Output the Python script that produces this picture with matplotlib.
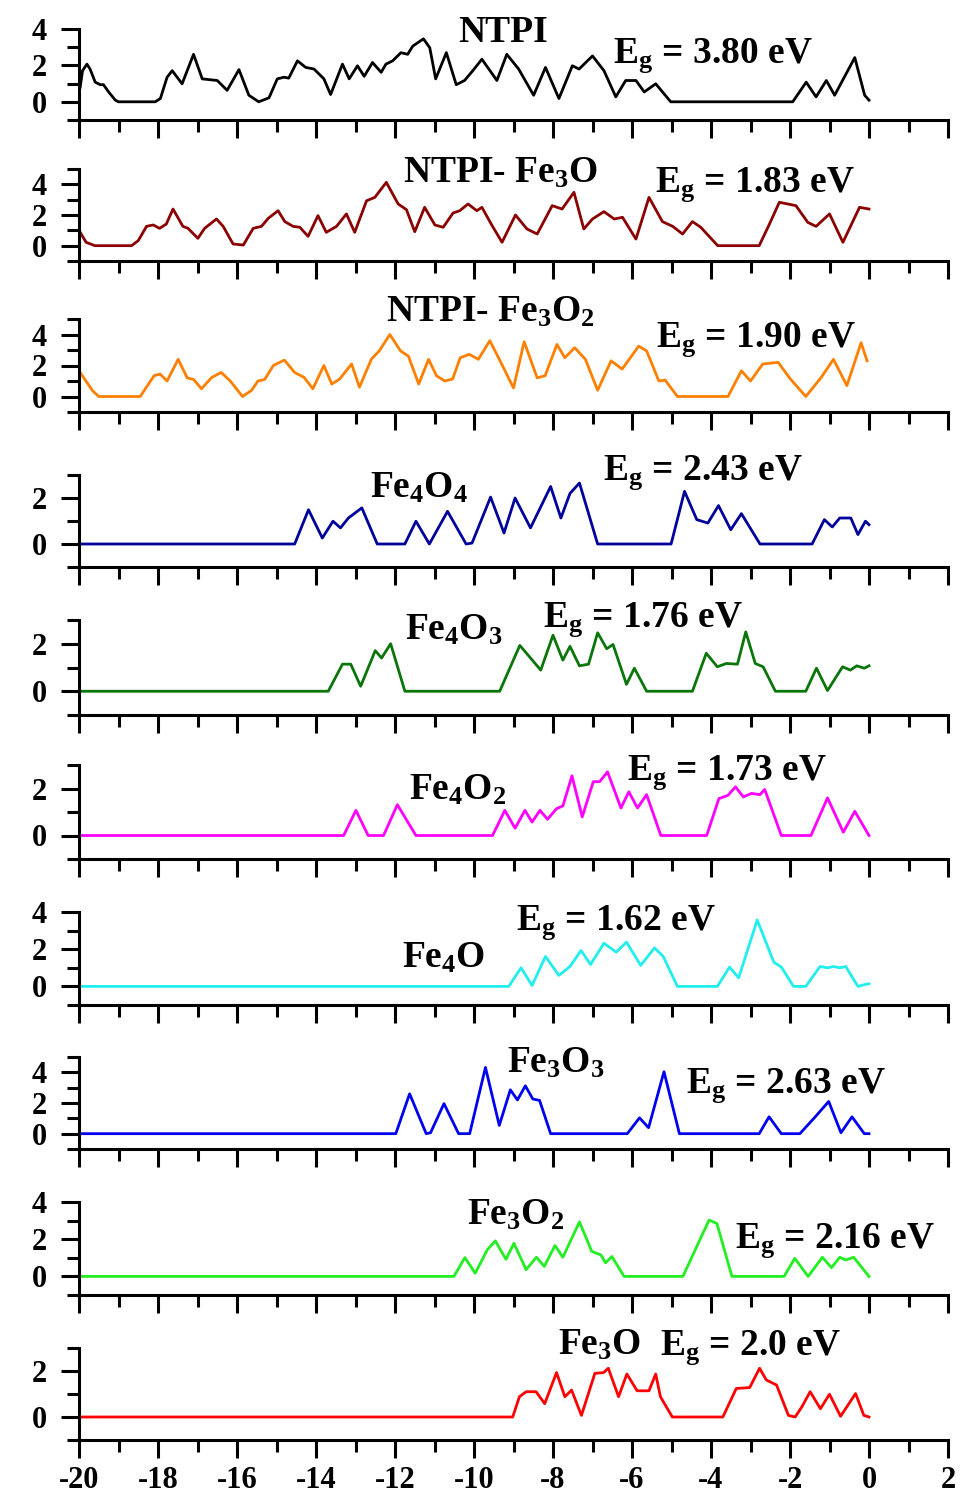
import numpy as np
import matplotlib
matplotlib.use("Agg")
import matplotlib.pyplot as plt
from matplotlib.ticker import MultipleLocator, FixedLocator

plt.rcParams.update({
    "font.family": "Liberation Serif",
    "font.weight": "bold",
    "axes.unicode_minus": False,
    "mathtext.fontset": "custom",
    "mathtext.rm": "Liberation Serif:bold",
    "mathtext.it": "Liberation Serif:bold",
    "mathtext.bf": "Liberation Serif:bold",
})

# ── DOS curves, energy (eV) vs states ────────────────────────────

ntpi_x = [-19.97, -19.91, -19.8, -19.72, -19.59, -19.46, -19.38, -19.25, -19.08, -19.0,
          -18.07, -17.94, -17.77, -17.64, -17.39, -17.1, -16.88, -16.5, -16.25, -15.95,
          -15.7, -15.45, -15.19, -14.98, -14.81, -14.69, -14.47, -14.26, -14.05, -13.8,
          -13.63, -13.33, -13.16, -12.95, -12.78, -12.57, -12.35, -12.23, -12.06, -11.85,
          -11.68, -11.55, -11.28, -11.12, -10.97, -10.7, -10.45, -10.24, -10.03, -9.8,
          -9.42, -9.17, -8.87, -8.49, -8.19, -7.85, -7.51, -7.34, -7.0, -6.71,
          -6.41, -6.16, -5.9, -5.69, -5.4, -5.02, -1.93, -1.59, -1.34, -1.08,
          -0.87, -0.36, -0.11, 0.0]
ntpi_y = [0.81, 1.71, 2.07, 1.8, 1.08, 0.94, 0.94, 0.54, 0.09, 0.0,
          0.0, 0.18, 1.35, 1.71, 0.99, 2.61, 1.26, 1.17, 0.63, 1.77,
          0.36, 0.0, 0.22, 1.26, 1.35, 1.3, 2.25, 1.89, 1.8, 1.26,
          0.4, 2.07, 1.26, 1.98, 1.4, 2.16, 1.62, 2.07, 2.25, 2.7,
          2.61, 3.06, 3.46, 2.97, 1.26, 2.7, 0.94, 1.17, 1.71, 2.34,
          1.17, 2.61, 1.8, 0.36, 1.89, 0.18, 1.98, 1.8, 2.52, 1.71,
          0.27, 1.17, 1.17, 0.54, 0.99, 0.0, 0.0, 1.08, 0.27, 1.17,
          0.36, 2.43, 0.36, 0.09]

ntpi_fe3o_x = [-19.97, -19.82, -19.6, -18.67, -18.5, -18.29, -18.12, -17.96, -17.79, -17.62,
               -17.37, -17.24, -16.99, -16.82, -16.52, -16.35, -16.1, -15.84, -15.59, -15.38,
               -15.21, -14.96, -14.79, -14.58, -14.41, -14.2, -13.95, -13.74, -13.48, -13.23,
               -13.02, -12.72, -12.51, -12.22, -11.92, -11.71, -11.5, -11.25, -10.99, -10.78,
               -10.53, -10.36, -10.15, -9.93, -9.8, -9.54, -9.29, -8.95, -8.66, -8.4,
               -8.02, -7.77, -7.47, -7.22, -7.0, -6.71, -6.45, -6.24, -5.9, -5.57,
               -5.23, -4.97, -4.72, -4.47, -4.26, -3.83, -2.78, -2.52, -2.27, -1.85,
               -1.55, -1.34, -1.0, -0.66, -0.24, 0.0]
ntpi_fe3o_y = [0.87, 0.22, 0.0, 0.0, 0.33, 1.26, 1.35, 1.13, 1.41, 2.39,
               1.26, 1.13, 0.48, 1.13, 1.74, 1.26, 0.11, 0.04, 1.13, 1.26,
               1.78, 2.28, 1.57, 1.26, 1.2, 0.61, 1.96, 0.87, 1.26, 2.07,
               0.87, 2.93, 3.15, 4.13, 2.72, 2.35, 0.91, 2.5, 1.35, 1.2,
               2.13, 2.28, 2.72, 2.28, 2.5, 1.3, 0.22, 2.0, 1.09, 0.76,
               2.61, 2.39, 3.48, 1.09, 1.74, 2.22, 1.74, 1.85, 0.43, 3.15,
               1.57, 1.26, 0.76, 1.57, 1.2, 0.0, 0.0, 1.41, 2.83, 2.61,
               1.52, 1.26, 2.07, 0.22, 2.5, 2.39]

ntpi_fe3o2_x = [-19.97, -19.66, -19.5, -18.45, -18.1, -17.95, -17.77, -17.49, -17.26, -17.1,
                -16.9, -16.64, -16.4, -16.17, -15.86, -15.63, -15.47, -15.3, -15.08, -14.8,
                -14.54, -14.3, -14.08, -13.8, -13.6, -13.4, -13.1, -12.9, -12.6, -12.4,
                -12.13, -11.86, -11.66, -11.4, -11.15, -10.95, -10.74, -10.54, -10.35, -10.12,
                -9.89, -9.6, -9.34, -9.0, -8.73, -8.4, -8.2, -7.9, -7.7, -7.45,
                -7.18, -6.87, -6.53, -6.25, -5.83, -5.63, -5.32, -5.16, -4.85, -3.57,
                -3.23, -3.0, -2.69, -2.3, -1.99, -1.6, -1.21, -0.9, -0.56, -0.2,
                -0.05]
ntpi_fe3o2_y = [1.55, 0.38, 0.0, 0.0, 1.34, 1.45, 1.0, 2.4, 1.2, 1.1,
                0.5, 1.23, 1.55, 1.0, 0.0, 0.4, 1.0, 1.1, 2.0, 2.35,
                1.55, 1.23, 0.5, 2.0, 0.8, 1.13, 2.1, 0.6, 2.4, 2.94,
                4.0, 2.94, 2.6, 0.8, 2.4, 1.34, 1.0, 1.13, 2.5, 2.72,
                2.4, 3.6, 2.3, 0.55, 3.53, 1.2, 1.34, 3.36, 2.5, 3.15,
                2.4, 0.4, 2.3, 1.77, 3.25, 2.94, 1.0, 1.06, 0.0, 0.0,
                1.66, 1.0, 2.1, 2.2, 1.13, 0.0, 1.23, 2.4, 0.7, 3.47,
                2.3]

fe4o4_x = [-20.0, -14.54, -14.19, -13.84, -13.57, -13.38, -13.18, -12.84, -12.45, -11.75,
           -11.47, -11.13, -10.67, -10.2, -10.05, -9.58, -9.24, -8.96, -8.57, -8.06,
           -7.8, -7.57, -7.33, -6.87, -5.01, -4.67, -4.36, -4.08, -3.81, -3.5,
           -3.23, -2.76, -1.44, -1.13, -0.93, -0.74, -0.46, -0.28, -0.09, 0.0]
fe4o4_y = [0.0, 0.0, 1.49, 0.26, 0.99, 0.7, 1.13, 1.57, 0.0, 0.0,
           0.99, 0.0, 1.42, 0.0, 0.04, 2.04, 0.48, 2.0, 0.7, 2.5,
           1.13, 2.2, 2.65, 0.0, 0.0, 2.29, 1.06, 0.91, 1.67, 0.62,
           1.32, 0.0, 0.0, 1.06, 0.74, 1.13, 1.13, 0.41, 0.99, 0.84]

fe4o3_x = [-20.0, -13.69, -13.33, -13.12, -12.87, -12.5, -12.34, -12.11, -11.75, -9.35,
           -8.84, -8.31, -8.0, -7.75, -7.57, -7.33, -7.1, -6.87, -6.64, -6.48,
           -6.14, -5.94, -5.63, -4.47, -4.12, -3.84, -3.61, -3.33, -3.12, -2.88,
           -2.68, -2.37, -1.6, -1.33, -1.05, -0.67, -0.47, -0.31, -0.12, 0.0]
fe4o3_y = [0.0, 0.0, 1.14, 1.14, 0.21, 1.71, 1.4, 2.0, 0.0, 0.0,
           1.93, 0.89, 2.36, 1.31, 1.89, 1.07, 1.14, 2.46, 1.79, 1.97,
           0.29, 0.97, 0.0, 0.0, 1.6, 1.03, 1.17, 1.14, 2.5, 1.17,
           1.03, 0.0, 0.0, 0.97, 0.03, 1.03, 0.89, 1.07, 0.97, 1.07]

fe4o2_x = [-20.0, -13.3, -12.99, -12.68, -12.29, -11.94, -11.47, -9.53, -9.22, -8.96,
           -8.71, -8.53, -8.33, -8.14, -7.91, -7.75, -7.52, -7.26, -6.98, -6.82,
           -6.62, -6.28, -6.08, -5.86, -5.63, -5.27, -4.11, -3.8, -3.57, -3.38,
           -3.18, -2.98, -2.76, -2.64, -2.22, -1.47, -1.05, -0.65, -0.36, 0.0]
fe4o2_y = [0.0, 0.0, 1.07, 0.0, 0.0, 1.31, 0.0, 0.0, 1.07, 0.31,
           1.07, 0.57, 1.07, 0.69, 1.14, 1.26, 2.54, 0.79, 2.29, 2.29,
           2.71, 1.17, 1.86, 1.17, 1.74, 0.0, 0.0, 1.57, 1.71, 2.07,
           1.64, 1.79, 1.74, 1.96, 0.0, 0.0, 1.6, 0.14, 1.03, 0.0]

fe4o_x = [-20.0, -9.12, -8.81, -8.53, -8.19, -7.85, -7.57, -7.29, -7.05, -6.71,
          -6.4, -6.14, -5.78, -5.43, -5.21, -4.85, -3.84, -3.53, -3.3, -2.83,
          -2.41, -2.22, -1.91, -1.6, -1.24, -1.05, -0.9, -0.74, -0.59, -0.28,
          -0.09, 0.0]
fe4o_y = [0.0, 0.0, 1.0, 0.05, 1.61, 0.59, 1.07, 1.93, 1.18, 2.32,
          1.84, 2.38, 1.13, 2.07, 1.61, 0.0, 0.0, 1.04, 0.46, 3.57,
          1.3, 1.04, 0.0, 0.0, 1.07, 1.0, 1.07, 1.0, 1.07, 0.0,
          0.11, 0.14]

fe3o3_x = [-20.0, -11.98, -11.63, -11.21, -11.1, -10.76, -10.39, -10.11, -9.71, -9.36,
           -9.08, -8.9, -8.7, -8.51, -8.34, -8.06, -6.12, -5.81, -5.58, -5.19,
           -4.8, -2.78, -2.53, -2.22, -1.75, -1.36, -1.02, -0.71, -0.43, -0.12,
           0.0]
fe3o3_y = [0.0, 0.0, 2.6, 0.0, 0.06, 1.96, 0.0, 0.0, 4.32, 0.54,
           2.86, 2.2, 3.12, 2.26, 2.17, 0.0, 0.0, 1.03, 0.39, 4.04,
           0.0, 0.0, 1.1, 0.0, 0.0, 1.1, 2.1, 0.06, 1.1, 0.0,
           0.0]

fe3o2_x = [-20.0, -10.51, -10.23, -9.97, -9.66, -9.46, -9.19, -8.99, -8.68, -8.42,
           -8.22, -7.95, -7.75, -7.33, -7.02, -6.79, -6.67, -6.51, -6.2, -4.71,
           -4.05, -3.85, -3.47, -2.15, -1.88, -1.54, -1.18, -0.95, -0.74, -0.59,
           -0.39, 0.0]
fe3o2_y = [0.0, 0.0, 1.01, 0.17, 1.44, 1.91, 0.92, 1.78, 0.36, 1.03,
           0.54, 1.66, 1.03, 2.93, 1.35, 1.16, 0.73, 1.07, 0.0, 0.0,
           3.03, 2.84, 0.0, 0.0, 0.97, 0.0, 1.03, 0.47, 1.03, 0.88,
           1.03, 0.0]

fe3o_x = [-20.0, -9.02, -8.85, -8.68, -8.43, -8.21, -7.91, -7.7, -7.53, -7.28,
          -6.94, -6.72, -6.6, -6.34, -6.13, -5.87, -5.57, -5.4, -5.28, -4.98,
          -3.7, -3.36, -3.02, -2.77, -2.6, -2.34, -2.04, -1.87, -1.7, -1.49,
          -1.23, -1.0, -0.72, -0.34, -0.13, 0.0]
fe3o_y = [0.0, 0.0, 0.88, 1.1, 1.1, 0.58, 1.93, 0.88, 1.17, 0.07,
          1.9, 1.93, 2.12, 0.88, 1.87, 1.14, 1.14, 1.87, 0.88, 0.0,
          0.0, 1.24, 1.28, 2.12, 1.61, 1.39, 0.07, 0.0, 0.44, 1.1,
          0.36, 0.99, 0.03, 1.02, 0.07, 0.0]

names = ["NTPI", "NTPI- Fe$_{3}$O", "NTPI- Fe$_{3}$O$_{2}$", "Fe$_{4}$O$_{4}$",
         "Fe$_{4}$O$_{3}$", "Fe$_{4}$O$_{2}$", "Fe$_{4}$O", "Fe$_{3}$O$_{3}$",
         "Fe$_{3}$O$_{2}$", "Fe$_{3}$O"]
gaps = ["3.80", "1.83", "1.90", "2.43", "1.76", "1.73", "1.62", "2.63", "2.16", "2.0"]
ytops = [4, 5, 5, 3, 3, 3, 4, 5, 4, 3]

series = [(ntpi_x, ntpi_y), (ntpi_fe3o_x, ntpi_fe3o_y), (ntpi_fe3o2_x, ntpi_fe3o2_y),
          (fe4o4_x, fe4o4_y), (fe4o3_x, fe4o3_y), (fe4o2_x, fe4o2_y),
          (fe4o_x, fe4o_y), (fe3o3_x, fe3o3_y), (fe3o2_x, fe3o2_y), (fe3o_x, fe3o_y)]

COLORS = ["#000000", "#8B0000", "#FF8000", "#00009A", "#0A750A",
          "#FF00FF", "#22EEEE", "#0000F0", "#22EE22", "#FF0000"]

# ── layout (figure pixels) ───────────────────────────────────────

W, H = 964, 1496
LEFT, RIGHT = 79, 948
TOPS = [29, 169, 319, 475, 620, 765, 912, 1057, 1202, 1348]
BOTS = [120, 261, 412, 567, 715, 859, 1005, 1149, 1295, 1440]
NAME_POS = [(458, 42), (403, 183), (386, 322), (370, 498), (405, 640),
            (409, 800), (402, 968), (507, 1073), (467, 1225), (558, 1355)]
GAP_POS = [(613, 63), (655, 192), (656, 347), (603, 480), (543, 627),
           (627, 780), (516, 930), (686, 1093), (735, 1248), (660, 1355)]
TXT = 27


def style_axis(ax, ytop, last):
    ax.set_xlim(-20, 2)
    ax.set_ylim(-1, ytop)
    for s in ("top", "right"):
        ax.spines[s].set_visible(False)
    for s in ("left", "bottom"):
        ax.spines[s].set_linewidth(2.2)
    ax.xaxis.set_major_locator(MultipleLocator(2))
    ax.xaxis.set_minor_locator(MultipleLocator(1))
    major_y = [v for v in (0, 2, 4) if v <= ytop]
    ax.yaxis.set_major_locator(FixedLocator(major_y))
    ax.yaxis.set_minor_locator(FixedLocator([v for v in range(-1, ytop + 1)
                                             if v not in major_y]))
    ax.tick_params(which="major", direction="out", length=13, width=2.2)
    ax.tick_params(which="minor", direction="out", length=8.5, width=2.2)
    ax.tick_params(axis="y", which="major", labelsize=22, pad=10)
    ax.tick_params(axis="x", which="major", labelsize=22, pad=6,
                   labelbottom=last)
    for lab in ax.get_xticklabels() + ax.get_yticklabels():
        lab.set_fontweight("bold")


fig = plt.figure(figsize=(W / 100, H / 100), dpi=100)
for i, ((xs, ys), col) in enumerate(zip(series, COLORS)):
    rect = [LEFT / W, 1 - BOTS[i] / H, (RIGHT - LEFT) / W, (BOTS[i] - TOPS[i]) / H]
    ax = fig.add_axes(rect)
    ax.plot(xs, ys, color=col, lw=2.0, solid_joinstyle="round")
    style_axis(ax, ytops[i], i == len(series) - 1)

    nx, ny = NAME_POS[i]
    fig.text(nx / W, 1 - ny / H, names[i], fontsize=TXT, fontweight="bold",
             va="baseline", ha="left")
    gx, gy = GAP_POS[i]
    fig.text(gx / W, 1 - gy / H, "E$_{\\mathrm{g}}$ = " + gaps[i] + " eV",
             fontsize=TXT, fontweight="bold", va="baseline", ha="left")

fig.savefig("out.png", dpi=100)
plt.close(fig)
